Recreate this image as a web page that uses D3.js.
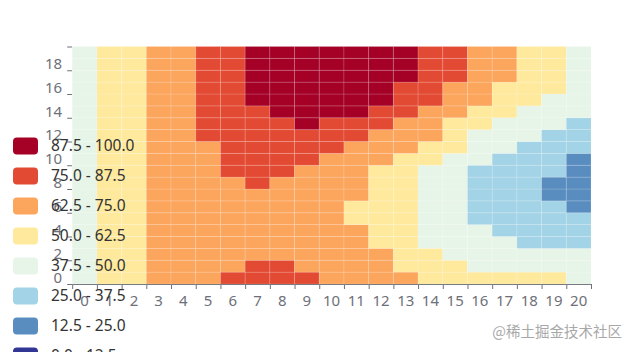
<!DOCTYPE html>
<html>
<head>
<meta charset="utf-8">
<script src="https://cdn.jsdelivr.net/npm/d3@7"></script>
<style>
  body { margin: 0; background: #fff; }
  svg { display: block; font-family: "Noto Sans", sans-serif; }
</style>
</head>
<body>
<div id="chart"></div>
<script>
// categories
var xCategories = d3.range(21).map(String);
var yCategories = d3.range(20).map(String);

// visualMap pieces, from high to low
var pieceLabels = ["87.5 - 100.0", "75.0 - 87.5", "62.5 - 75.0", "50.0 - 62.5",
                   "37.5 - 50.0", "25.0 - 37.5", "12.5 - 25.0", "0.0 - 12.5"];
var pieceBreaks = [12.5, 25, 37.5, 50, 62.5, 75, 87.5];
var pieceColors = ["#313695", "#598dc0", "#a3d3e6", "#e7f5e8",
                   "#fee99d", "#fca55d", "#e34a33", "#a50026"];

// one row per y category (0 at bottom), one value per x category
var heatRows = [
  [44,56,56,69,69,69,81,81,81,81,69,69,69,69,56,56,56,56,56,56,44],
  [44,56,56,69,69,69,69,81,81,69,69,69,69,56,56,56,44,44,44,44,44],
  [44,56,56,69,69,69,69,69,69,69,69,69,69,56,56,44,44,44,44,44,44],
  [44,56,56,69,69,69,69,69,69,69,69,69,56,56,44,44,44,44,31,31,31],
  [44,56,56,69,69,69,69,69,69,69,69,69,56,56,44,44,44,31,31,31,31],
  [44,56,56,69,69,69,69,69,69,69,69,56,56,56,44,44,31,31,31,31,31],
  [44,56,56,69,69,69,69,69,69,69,69,56,56,56,44,44,31,31,31,31,19],
  [44,56,56,69,69,69,69,69,69,69,69,69,56,56,44,44,31,31,31,19,19],
  [44,56,56,69,69,69,69,81,69,69,69,69,56,56,44,44,31,31,31,19,19],
  [44,56,56,69,69,69,81,81,81,69,69,69,56,56,44,44,31,31,31,31,19],
  [44,56,56,69,69,69,81,81,81,81,69,69,69,56,56,44,44,31,31,31,19],
  [44,56,56,69,69,69,81,81,81,81,81,69,69,69,56,56,44,44,31,31,31],
  [44,56,56,69,69,81,81,81,81,81,81,81,69,69,69,56,44,44,44,31,31],
  [44,56,56,69,69,81,81,81,81,94,81,81,81,69,69,56,56,44,44,44,31],
  [44,56,56,69,69,81,81,81,94,94,94,94,81,81,69,69,56,56,44,44,44],
  [44,56,56,69,69,81,81,94,94,94,94,94,94,81,81,69,69,56,56,44,44],
  [44,56,56,69,69,81,81,94,94,94,94,94,94,81,81,69,69,56,56,56,44],
  [44,56,56,69,69,81,81,94,94,94,94,94,94,94,81,81,69,69,56,56,44],
  [44,56,56,69,69,81,81,94,94,94,94,94,94,94,81,81,69,69,56,56,44],
  [44,56,56,69,69,81,81,94,94,94,94,94,94,94,81,81,69,69,56,56,44]
];

var width = 634, height = 352;
var plot = { left: 72.2, right: 591, top: 46.5, bottom: 284 };
var axisColor = "#6e7079";

var svg = d3.select("#chart").append("svg")
    .attr("width", width)
    .attr("height", height);

var x = d3.scaleBand().domain(xCategories).range([plot.left, plot.right]);
var y = d3.scaleBand().domain(yCategories).range([plot.bottom, plot.top]);
// boundary scales for the ticks (echarts puts them between categories)
var xEdge = d3.scaleLinear().domain([0, xCategories.length]).range([plot.left, plot.right]);
var yEdge = d3.scaleLinear().domain([0, yCategories.length]).range([plot.bottom, plot.top]);

var color = d3.scaleThreshold().domain(pieceBreaks).range(pieceColors);

// x axis line + ticks
var xTicks = svg.append("g")
    .attr("transform", "translate(0," + plot.bottom + ")")
    .call(d3.axisBottom(xEdge).tickValues(d3.range(xCategories.length + 1))
        .tickSize(5).tickSizeOuter(0).tickFormat(""));
xTicks.selectAll("path, line").attr("stroke", axisColor);

// x labels
var xLabels = svg.append("g")
    .attr("transform", "translate(0," + plot.bottom + ")")
    .call(d3.axisBottom(x).tickSize(0).tickPadding(11));
xLabels.select(".domain").remove();
xLabels.selectAll("text")
    .attr("fill", axisColor)
    .style("font-size", "15px")
    .style("font-family", "Noto Sans, sans-serif");

// y ticks every second boundary
var yTicks = svg.append("g")
    .attr("transform", "translate(" + plot.left + ",0)")
    .call(d3.axisLeft(yEdge).tickValues(d3.range(0, yCategories.length + 1, 2))
        .tickSize(5).tickFormat(""));
yTicks.select(".domain").remove();
yTicks.selectAll("line").attr("stroke", axisColor);

// y labels, every second category
var yLabels = svg.append("g")
    .attr("transform", "translate(" + plot.left + ",0)")
    .call(d3.axisLeft(y).tickValues(yCategories.filter(function(d, i) { return i % 2 === 0; }))
        .tickSize(0).tickPadding(10));
yLabels.select(".domain").remove();
yLabels.selectAll("text")
    .attr("fill", axisColor)
    .style("font-size", "15px")
    .style("font-family", "Noto Sans, sans-serif");

// heatmap cells
var cells = [];
heatRows.forEach(function(row, j) {
    row.forEach(function(v, i) {
        cells.push({ x: xCategories[i], y: yCategories[j], value: v });
    });
});

svg.append("g")
    .selectAll("rect")
    .data(cells)
    .enter().append("rect")
    .attr("x", function(d) { return x(d.x); })
    .attr("y", function(d) { return y(d.y); })
    .attr("width", x.bandwidth())
    .attr("height", y.bandwidth())
    .attr("fill", function(d) { return color(d.value); })
    .attr("stroke", "rgba(255,255,255,0.14)")
    .attr("stroke-width", 1);

// piecewise legend
var legendColors = pieceColors.slice().reverse();
var legend = svg.selectAll(".legend")
    .data(pieceLabels)
    .enter().append("g")
    .attr("class", "legend")
    .attr("transform", function(d, i) { return "translate(13," + (146 + i * 30) + ")"; });

legend.append("rect")
    .attr("x", 0)
    .attr("y", -8.5)
    .attr("width", 25)
    .attr("height", 17)
    .attr("rx", 4)
    .attr("fill", function(d, i) { return legendColors[i]; });

legend.append("text")
    .attr("x", 38)
    .attr("dy", "0.35em")
    .attr("fill", "#333")
    .style("font-size", "15.5px")
    .text(function(d) { return d; });

// watermark
svg.append("text")
    .attr("x", 622)
    .attr("y", 337)
    .attr("text-anchor", "end")
    .attr("fill", "#a8a8a8")
    .style("font-family", "Noto Sans CJK SC, sans-serif")
    .style("font-size", "14.5px")
    .text("@稀土掘金技术社区");
</script>
</body>
</html>
